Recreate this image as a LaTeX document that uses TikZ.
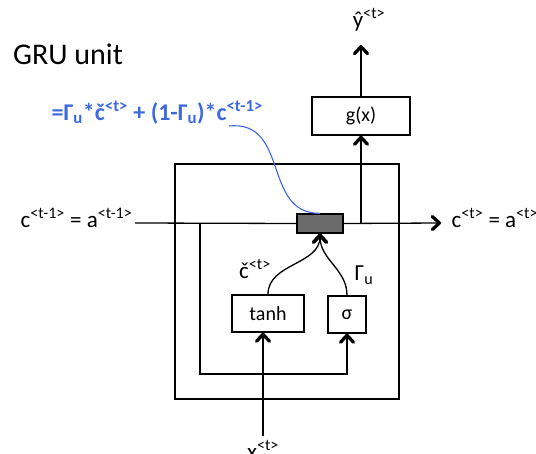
\documentclass[tikz,border=0pt]{standalone}
\usepackage{fontspec}
\setmainfont{Carlito}
\usetikzlibrary{arrows.meta,positioning}

\definecolor{ruleblue}{RGB}{62,104,222}

\begin{document}
\begin{tikzpicture}[
    x=1pt, y=-1pt,
    line width=1.3pt,
    flow/.style      = {-{Straight Barb[length=7pt,width=13pt,line width'=3.3pt,round]}},
    unitbox/.style   = {draw, fill=white, inner sep=0pt, line width=1.3pt},
    gatebox/.style   = {draw, fill=black!58, inner sep=0pt, line width=1.3pt,
                        minimum width=46pt, minimum height=19pt},
    lbl/.style       = {inner sep=0pt, font=\fontsize{23}{26}\selectfont},
    formula/.style   = {ruleblue, line width=1.1pt}
  ]
\useasboundingbox (0,0) rectangle (536,454);

% =========================================================
% Title
% =========================================================
\node[inner sep=0pt, font=\fontsize{30}{34}\selectfont] (title) at (68,54) {GRU unit};

% =========================================================
% Boxes
% =========================================================
\node[gatebox] (gate) at (320,223.5) {};
\node[unitbox, minimum width=98pt, minimum height=38pt, font=\fontsize{20}{24}\selectfont]
  (gx) at (361,116) {g(x)};
\node[unitbox, minimum width=72pt, minimum height=37pt, font=\fontsize{20}{24}\selectfont]
  (tanh) at (268,313.5) {tanh};
\node[unitbox, minimum width=38pt, minimum height=37pt, font=\fontsize{20}{24}\selectfont]
  (sig) at (347,314.5) {σ};

% outer cell frame
\draw (175,164) rectangle (399,399);

% =========================================================
% Memory line c^{<t-1>} -> c^{<t>}
% =========================================================
\coordinate (lin)  at (135,223);
\coordinate (lout) at (441,223);
\coordinate (tap)  at (361,223);
\coordinate (loop) at (200,223);
\coordinate (yout) at (361,45);
\coordinate (xin)  at (263,436);

\node[lbl, anchor=base east] (cprev) at (133,228)
  {c\textsuperscript{<t-1>} = a\textsuperscript{<t-1>}};
\node[lbl, anchor=base west] (cnext) at (451,228)
  {c\textsuperscript{<t>} = a\textsuperscript{<t>}};

\draw (lin) -- (gate.west);
\draw[flow] (gate.east) -- (lout);

% output branch
\draw[flow] (tap) -- (gx.south);
\draw[flow] (gx.north) -- (yout);
\node[lbl, anchor=south] (yhat) at (369,32) {ŷ\textsuperscript{<t>}};

% feedback of c^{<t-1>} into the gates
\draw[flow] (loop) -- (200,374) -| (sig.south);

% input x^{<t>}
\draw[flow] (xin) -- (xin |- tanh.south);
\node[lbl, anchor=north] (xlab) at (263,440) {x\textsuperscript{<t>}};

% candidate and update gate into the gate box
\draw[flow] (tanh.north) to[out=90, in=-90] (gate.south);
\draw[flow] (sig.north) to[out=90, in=-90] (gate.south);
\node[lbl] (ctil) at (255,269) {č\textsuperscript{<t>}};
\node[lbl] (gam) at (364,275) {Γ\textsubscript{u}};

% =========================================================
% Update rule (blue annotation)
% =========================================================
\node[lbl, anchor=west, text=ruleblue, font=\fontsize{24}{28}\selectfont\bfseries]
  (rule) at (51,112)
  {=Γ\textsubscript{u}*č\textsuperscript{<t>} + (1-Γ\textsubscript{u})*c\textsuperscript{<t-1>}};
\coordinate (rend) at (229,126);
\draw[formula] (rend) .. controls (290,120) and (262,214) .. (gate.north);

\end{tikzpicture}
\end{document}
